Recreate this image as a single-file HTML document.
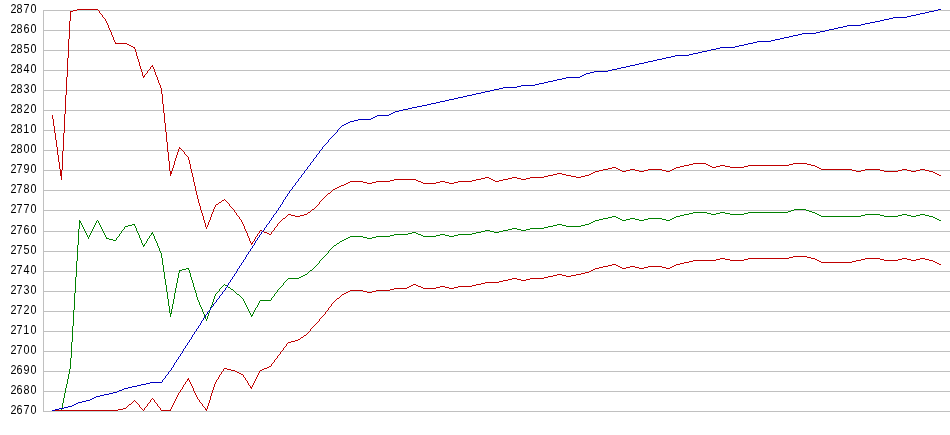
<!DOCTYPE html>
<html lang="en">
<head>
<meta charset="utf-8">
<title>Chart</title>
<style>
html,body{margin:0;padding:0;background:#fff;}
body{width:950px;height:435px;overflow:hidden;position:relative;font-family:"Liberation Sans",Arial,sans-serif;}
svg{position:absolute;left:0;top:0;display:block;}
</style>
</head>
<body>
<svg width="950" height="435" viewBox="0 0 950 435" shape-rendering="crispEdges">
<rect x="0" y="0" width="950" height="435" fill="#ffffff"/>
<path fill="#c0c0c0" d="M43 10h907v1h-907zM43 30h907v1h-907zM43 50h907v1h-907zM43 70h907v1h-907zM43 90h907v1h-907zM43 110h907v1h-907zM43 130h907v1h-907zM43 150h907v1h-907zM43 170h907v1h-907zM43 190h907v1h-907zM43 210h907v1h-907zM43 231h907v1h-907zM43 251h907v1h-907zM43 271h907v1h-907zM43 291h907v1h-907zM43 311h907v1h-907zM43 331h907v1h-907zM43 351h907v1h-907zM43 371h907v1h-907zM43 391h907v1h-907zM43 411h907v1h-907zM43 10h1v402h-1z"/>
<path fill="#cdcdba" d="M52 411h3v1h-3zM113 391h4v1h-4zM119 391h3v1h-3zM168 371h1v1h-1zM170 371h1v1h-1zM183 351h1v1h-1zM194 331h1v1h-1zM196 331h1v1h-1zM207 311h1v1h-1zM222 291h1v1h-1zM224 291h1v1h-1zM237 271h1v1h-1zM248 251h1v1h-1zM250 251h1v1h-1zM261 231h1v1h-1zM276 210h1v1h-1zM278 210h1v1h-1zM289 190h1v1h-1zM291 190h1v1h-1zM304 170h1v1h-1zM306 170h1v1h-1zM319 150h1v1h-1zM321 150h1v1h-1zM338 130h1v1h-1zM395 110h4v1h-4zM403 110h5v1h-5zM485 90h5v1h-5zM494 90h5v1h-5zM594 70h14v1h-14zM612 70h5v1h-5zM702 50h5v1h-5zM711 50h5v1h-5zM820 30h5v1h-5zM829 30h5v1h-5zM929 10h5v1h-5zM938 10h3v1h-3z"/>
<path fill="#bfd4d4" d="M55 411h63v1h-63zM143 411h1v1h-1zM161 411h10v1h-10zM179 391h1v1h-1zM193 391h1v1h-1zM206 411h1v1h-1zM221 371h1v1h-1zM223 371h1v1h-1zM231 371h4v1h-4zM237 371h2v1h-2zM260 371h2v1h-2zM280 351h1v1h-1zM282 351h1v1h-1zM308 331h1v1h-1zM310 331h1v1h-1zM325 311h1v1h-1zM327 311h1v1h-1zM346 291h2v1h-2zM350 291h13v1h-13zM367 291h5v1h-5zM376 291h14v1h-14zM585 271h4v1h-4zM591 271h2v1h-2z"/>
<path fill="#bfd4d4" d="M62 150h1v1h-1zM62 170h1v1h-1zM70 10h3v1h-3zM77 10h21v1h-21zM99 10h1v1h-1zM109 30h1v1h-1zM147 70h1v1h-1zM149 70h1v1h-1zM170 170h2v1h-2zM181 150h1v1h-1zM183 150h1v1h-1zM196 190h1v1h-1zM200 210h1v1h-1zM233 210h1v1h-1zM245 231h1v1h-1zM260 231h1v1h-1zM264 231h3v1h-3zM271 231h1v1h-1zM273 231h1v1h-1zM310 210h1v1h-1zM312 210h2v1h-2zM331 190h1v1h-1zM333 190h2v1h-2zM595 170h4v1h-4zM603 170h5v1h-5zM618 170h2v1h-2zM622 170h4v1h-4zM630 170h5v1h-5zM639 170h5v1h-5zM648 170h14v1h-14zM666 170h4v1h-4zM672 170h2v1h-2zM821 170h31v1h-31zM856 170h5v1h-5zM865 170h15v1h-15zM884 170h14v1h-14zM902 170h5v1h-5zM911 170h5v1h-5zM920 170h5v1h-5zM929 170h4v1h-4z"/>
<path fill="#d1c4d3" d="M84 231h1v1h-1zM92 231h1v1h-1zM102 231h1v1h-1zM122 231h1v1h-1zM136 231h1v1h-1zM152 231h1v1h-1zM159 251h1v1h-1zM164 271h1v1h-1zM167 291h1v1h-1zM180 271h2v1h-2zM203 311h1v1h-1zM217 291h1v1h-1zM219 291h1v1h-1zM233 291h1v1h-1zM235 291h1v1h-1zM248 311h1v1h-1zM253 311h1v1h-1zM276 291h1v1h-1zM308 271h1v1h-1zM310 271h2v1h-2zM329 251h1v1h-1zM412 231h4v1h-4zM476 231h5v1h-5zM485 231h5v1h-5zM494 231h5v1h-5zM503 231h5v1h-5zM521 231h5v1h-5zM788 210h3v1h-3zM794 210h12v1h-12zM809 210h3v1h-3z"/>
<path fill="#008000" d="M52 410h9v1h-9zM61 408h1v3h-1zM62 403h1v5h-1zM63 398h1v5h-1zM64 393h1v5h-1zM65 388h1v5h-1zM66 384h1v4h-1zM67 379h1v5h-1zM68 374h1v5h-1zM69 369h1v5h-1zM70 358h1v11h-1zM71 342h1v16h-1zM72 326h1v16h-1zM73 310h1v16h-1zM74 293h1v17h-1zM75 277h1v16h-1zM76 261h1v16h-1zM77 245h1v16h-1zM78 229h1v16h-1zM79 220h1v9h-1zM80 221h1v1h-1zM80 222h1v1h-1zM81 223h1v1h-1zM81 224h1v1h-1zM82 225h1v1h-1zM82 226h1v1h-1zM83 227h1v1h-1zM83 228h1v1h-1zM84 229h1v1h-1zM84 230h1v1h-1zM85 231h1v1h-1zM85 232h1v1h-1zM86 233h1v1h-1zM86 234h1v1h-1zM87 235h1v1h-1zM87 236h1v1h-1zM88 237h1v1h-1zM88 238h1v1h-1zM89 235h1v1h-1zM89 236h1v1h-1zM90 233h1v1h-1zM90 234h1v1h-1zM91 231h1v1h-1zM91 232h1v1h-1zM92 229h1v1h-1zM92 230h1v1h-1zM93 227h1v1h-1zM93 228h1v1h-1zM94 225h1v1h-1zM94 226h1v1h-1zM95 223h1v1h-1zM95 224h1v1h-1zM96 221h1v1h-1zM96 222h1v1h-1zM97 220h1v1h-1zM98 221h1v1h-1zM98 222h1v1h-1zM99 223h1v1h-1zM99 224h1v1h-1zM100 225h1v1h-1zM100 226h1v1h-1zM101 227h1v1h-1zM101 228h1v1h-1zM102 229h1v1h-1zM102 230h1v1h-1zM103 231h1v1h-1zM103 232h1v1h-1zM104 233h1v1h-1zM104 234h1v1h-1zM105 235h1v1h-1zM105 236h1v1h-1zM106 237h1v1h-1zM106 238h3v1h-3zM109 239h4v1h-4zM113 240h3v1h-3zM116 238h1v1h-1zM116 239h1v1h-1zM117 237h1v1h-1zM118 236h1v1h-1zM119 234h1v1h-1zM119 235h1v1h-1zM120 233h1v1h-1zM121 231h1v1h-1zM121 232h1v1h-1zM122 230h1v1h-1zM123 229h1v1h-1zM124 227h1v1h-1zM124 228h1v1h-1zM125 226h3v1h-3zM128 225h4v1h-4zM132 224h3v1h-3zM134 225h1v1h-1zM135 226h1v1h-1zM135 227h1v1h-1zM136 228h1v3h-1zM137 231h1v1h-1zM137 232h1v1h-1zM138 233h1v1h-1zM138 234h1v1h-1zM139 235h1v3h-1zM140 238h1v1h-1zM140 239h1v1h-1zM141 240h1v3h-1zM142 243h1v1h-1zM142 244h1v1h-1zM143 245h2v1h-2zM143 246h1v1h-1zM144 244h1v1h-1zM145 243h1v1h-1zM146 241h1v1h-1zM146 242h1v1h-1zM147 239h1v1h-1zM147 240h1v1h-1zM148 238h1v1h-1zM149 236h1v1h-1zM149 237h1v1h-1zM150 235h1v1h-1zM151 233h2v1h-2zM151 234h1v1h-1zM152 232h1v1h-1zM153 234h1v1h-1zM153 235h1v1h-1zM154 236h1v3h-1zM155 239h1v1h-1zM155 240h1v1h-1zM156 241h1v1h-1zM156 242h1v1h-1zM157 243h1v3h-1zM158 246h1v1h-1zM158 247h1v1h-1zM159 248h1v3h-1zM160 251h1v1h-1zM160 252h1v1h-1zM161 253h1v5h-1zM162 258h1v7h-1zM163 265h1v7h-1zM164 272h1v7h-1zM165 279h1v6h-1zM166 285h1v7h-1zM167 292h1v7h-1zM168 299h1v7h-1zM169 306h1v7h-1zM170 313h1v4h-1zM171 309h1v5h-1zM172 304h1v5h-1zM173 299h1v5h-1zM174 293h1v6h-1zM175 288h1v5h-1zM176 283h1v5h-1zM177 278h1v5h-1zM178 273h1v5h-1zM179 270h1v3h-1zM180 270h2v1h-2zM182 269h4v1h-4zM186 268h3v1h-3zM188 269h1v1h-1zM189 270h1v3h-1zM190 273h1v4h-1zM191 277h1v3h-1zM192 280h1v3h-1zM193 283h1v4h-1zM194 287h1v3h-1zM195 290h1v3h-1zM196 293h1v4h-1zM197 297h1v3h-1zM198 300h1v1h-1zM198 301h1v1h-1zM199 302h1v3h-1zM200 305h1v1h-1zM200 306h1v1h-1zM201 307h1v1h-1zM201 308h1v1h-1zM202 309h1v3h-1zM203 312h1v1h-1zM203 313h1v1h-1zM204 314h1v3h-1zM205 317h1v1h-1zM205 318h1v1h-1zM206 319h1v1h-1zM206 320h1v1h-1zM207 316h1v3h-1zM208 313h1v3h-1zM209 310h1v3h-1zM210 307h1v3h-1zM211 305h1v1h-1zM211 306h1v1h-1zM212 302h1v3h-1zM213 299h1v3h-1zM214 296h1v3h-1zM215 294h1v1h-1zM215 295h1v1h-1zM216 293h1v1h-1zM217 292h1v1h-1zM218 291h1v1h-1zM219 289h1v1h-1zM219 290h1v1h-1zM220 288h1v1h-1zM221 287h1v1h-1zM222 286h1v1h-1zM223 285h1v1h-1zM224 284h1v1h-1zM225 285h2v1h-2zM227 286h1v1h-1zM228 287h2v1h-2zM230 288h1v1h-1zM231 289h2v1h-2zM233 290h1v1h-1zM234 291h1v1h-1zM235 292h1v1h-1zM236 293h1v1h-1zM237 294h2v1h-2zM239 295h1v1h-1zM240 296h1v1h-1zM241 297h1v1h-1zM242 298h1v1h-1zM243 299h1v1h-1zM243 300h1v1h-1zM244 301h1v1h-1zM244 302h1v1h-1zM245 303h1v1h-1zM245 304h1v1h-1zM246 305h1v1h-1zM246 306h1v1h-1zM247 307h1v1h-1zM247 308h1v1h-1zM248 309h1v1h-1zM248 310h1v1h-1zM249 311h1v1h-1zM249 312h1v1h-1zM250 313h1v1h-1zM250 314h1v1h-1zM251 315h2v1h-2zM251 316h1v1h-1zM252 314h1v1h-1zM253 312h1v1h-1zM253 313h1v1h-1zM254 310h1v1h-1zM254 311h1v1h-1zM255 308h1v1h-1zM255 309h1v1h-1zM256 307h1v1h-1zM257 305h1v1h-1zM257 306h1v1h-1zM258 303h1v1h-1zM258 304h1v1h-1zM259 301h1v1h-1zM259 302h1v1h-1zM260 300h11v1h-11zM271 298h1v1h-1zM271 299h1v1h-1zM272 297h1v1h-1zM273 296h1v1h-1zM274 294h1v1h-1zM274 295h1v1h-1zM275 293h1v1h-1zM276 292h1v1h-1zM277 290h1v1h-1zM277 291h1v1h-1zM278 289h1v1h-1zM279 288h1v1h-1zM280 287h1v1h-1zM281 286h1v1h-1zM282 285h1v1h-1zM283 283h1v1h-1zM283 284h1v1h-1zM284 282h1v1h-1zM285 281h1v1h-1zM286 280h1v1h-1zM287 279h1v1h-1zM288 278h11v1h-11zM299 277h2v1h-2zM301 276h2v1h-2zM303 275h2v1h-2zM305 274h2v1h-2zM307 273h1v1h-1zM308 272h1v1h-1zM309 271h1v1h-1zM310 270h2v1h-2zM312 269h1v1h-1zM313 268h1v1h-1zM314 267h1v1h-1zM315 266h1v1h-1zM316 265h1v1h-1zM317 264h1v1h-1zM318 263h1v1h-1zM319 261h1v1h-1zM319 262h1v1h-1zM320 260h1v1h-1zM321 259h1v1h-1zM322 258h1v1h-1zM323 257h1v1h-1zM324 256h1v1h-1zM325 255h1v1h-1zM326 254h1v1h-1zM327 253h1v1h-1zM328 251h1v1h-1zM328 252h1v1h-1zM329 250h1v1h-1zM330 249h1v1h-1zM331 248h1v1h-1zM332 247h1v1h-1zM333 246h1v1h-1zM334 245h2v1h-2zM336 244h1v1h-1zM337 243h2v1h-2zM339 242h1v1h-1zM340 241h2v1h-2zM342 240h2v1h-2zM344 239h2v1h-2zM346 238h2v1h-2zM348 237h2v1h-2zM350 236h13v1h-13zM363 237h4v1h-4zM367 238h5v1h-5zM372 237h4v1h-4zM376 236h14v1h-14zM390 235h4v1h-4zM394 234h14v1h-14zM408 233h4v1h-4zM412 232h4v1h-4zM416 233h2v1h-2zM418 234h3v1h-3zM421 235h2v1h-2zM423 236h13v1h-13zM436 235h4v1h-4zM440 234h5v1h-5zM445 235h4v1h-4zM449 236h5v1h-5zM454 235h4v1h-4zM458 234h14v1h-14zM472 233h4v1h-4zM476 232h5v1h-5zM481 231h4v1h-4zM485 230h5v1h-5zM490 231h4v1h-4zM494 232h5v1h-5zM499 231h4v1h-4zM503 230h5v1h-5zM508 229h4v1h-4zM512 228h5v1h-5zM517 229h4v1h-4zM521 230h5v1h-5zM526 229h4v1h-4zM530 228h14v1h-14zM544 227h4v1h-4zM548 226h5v1h-5zM553 225h4v1h-4zM557 224h5v1h-5zM562 225h4v1h-4zM566 226h15v1h-15zM581 225h4v1h-4zM585 224h4v1h-4zM589 223h2v1h-2zM591 222h2v1h-2zM593 221h2v1h-2zM595 220h4v1h-4zM599 219h4v1h-4zM603 218h5v1h-5zM608 217h4v1h-4zM612 216h4v1h-4zM616 217h2v1h-2zM618 218h2v1h-2zM620 219h2v1h-2zM622 220h4v1h-4zM626 219h4v1h-4zM630 218h5v1h-5zM635 219h4v1h-4zM639 220h5v1h-5zM644 219h4v1h-4zM648 218h14v1h-14zM662 219h4v1h-4zM666 220h4v1h-4zM670 219h2v1h-2zM672 218h2v1h-2zM674 217h2v1h-2zM676 216h4v1h-4zM680 215h4v1h-4zM684 214h5v1h-5zM689 213h4v1h-4zM693 212h14v1h-14zM707 213h4v1h-4zM711 214h5v1h-5zM716 213h4v1h-4zM720 212h5v1h-5zM725 213h5v1h-5zM730 214h14v1h-14zM744 213h4v1h-4zM748 212h40v1h-40zM788 211h3v1h-3zM791 210h3v1h-3zM794 209h12v1h-12zM806 210h3v1h-3zM809 211h3v1h-3zM812 212h3v1h-3zM815 213h2v1h-2zM817 214h2v1h-2zM819 215h2v1h-2zM821 216h40v1h-40zM861 215h4v1h-4zM865 214h15v1h-15zM880 215h4v1h-4zM884 216h14v1h-14zM898 215h4v1h-4zM902 214h5v1h-5zM907 215h4v1h-4zM911 216h5v1h-5zM916 215h4v1h-4zM920 214h5v1h-5zM925 215h4v1h-4zM929 216h4v1h-4zM933 217h2v1h-2zM935 218h2v1h-2zM937 219h2v1h-2zM939 220h2v1h-2z"/>
<path fill="#c00000" d="M52 115h1v4h-1zM53 119h1v7h-1zM54 126h1v7h-1zM55 133h1v7h-1zM56 140h1v7h-1zM57 147h1v8h-1zM58 155h1v7h-1zM59 162h1v7h-1zM60 169h1v7h-1zM61 170h1v10h-1zM62 151h1v19h-1zM63 133h1v18h-1zM64 114h1v19h-1zM65 95h1v19h-1zM66 77h1v18h-1zM67 58h1v19h-1zM68 39h1v19h-1zM69 21h1v18h-1zM70 11h1v10h-1zM71 11h2v1h-2zM73 10h4v1h-4zM77 9h21v1h-21zM98 10h1v1h-1zM99 11h1v1h-1zM99 12h1v1h-1zM100 13h1v1h-1zM101 14h1v1h-1zM102 15h1v1h-1zM102 16h1v1h-1zM103 17h1v1h-1zM104 18h1v1h-1zM105 19h1v1h-1zM105 20h1v1h-1zM106 21h1v1h-1zM106 22h1v1h-1zM107 23h1v1h-1zM107 24h1v1h-1zM108 25h1v3h-1zM109 28h1v1h-1zM109 29h1v1h-1zM110 30h1v1h-1zM110 31h1v1h-1zM111 32h1v3h-1zM112 35h1v1h-1zM112 36h1v1h-1zM113 37h1v3h-1zM114 40h1v1h-1zM114 41h1v1h-1zM115 42h1v1h-1zM115 43h12v1h-12zM127 44h2v1h-2zM129 45h2v1h-2zM131 46h2v1h-2zM133 47h2v1h-2zM134 48h1v1h-1zM135 49h1v3h-1zM136 52h1v4h-1zM137 56h1v3h-1zM138 59h1v3h-1zM139 62h1v4h-1zM140 66h1v3h-1zM141 69h1v3h-1zM142 72h1v4h-1zM143 76h2v1h-2zM143 77h1v1h-1zM144 75h1v1h-1zM145 74h1v1h-1zM146 73h1v1h-1zM147 71h1v1h-1zM147 72h1v1h-1zM148 70h1v1h-1zM149 69h1v1h-1zM150 67h1v1h-1zM150 68h1v1h-1zM151 66h2v1h-2zM152 65h1v1h-1zM153 67h1v1h-1zM153 68h1v1h-1zM154 69h1v3h-1zM155 72h1v3h-1zM156 75h1v1h-1zM156 76h1v1h-1zM157 77h1v3h-1zM158 80h1v3h-1zM159 83h1v1h-1zM159 84h1v1h-1zM160 85h1v3h-1zM161 88h1v6h-1zM162 94h1v10h-1zM163 104h1v9h-1zM164 113h1v10h-1zM165 123h1v9h-1zM166 132h1v10h-1zM167 142h1v10h-1zM168 152h1v9h-1zM169 161h1v10h-1zM170 171h1v5h-1zM171 171h1v3h-1zM172 168h1v3h-1zM173 165h1v3h-1zM174 161h1v4h-1zM175 158h1v3h-1zM176 155h1v3h-1zM177 152h1v3h-1zM178 149h1v3h-1zM179 147h1v1h-1zM179 148h2v1h-2zM181 149h1v1h-1zM182 150h1v1h-1zM183 151h1v1h-1zM184 152h1v1h-1zM184 153h1v1h-1zM185 154h1v1h-1zM186 155h1v1h-1zM187 156h1v1h-1zM188 157h1v3h-1zM189 160h1v4h-1zM190 164h1v5h-1zM191 169h1v4h-1zM192 173h1v4h-1zM193 177h1v5h-1zM194 182h1v4h-1zM195 186h1v5h-1zM196 191h1v4h-1zM197 195h1v4h-1zM198 199h1v4h-1zM199 203h1v3h-1zM200 206h1v4h-1zM201 210h1v3h-1zM202 213h1v3h-1zM203 216h1v4h-1zM204 220h1v3h-1zM205 223h1v4h-1zM206 227h1v1h-1zM206 228h1v1h-1zM207 225h1v1h-1zM207 226h1v1h-1zM208 222h1v3h-1zM209 220h1v1h-1zM209 221h1v1h-1zM210 217h1v3h-1zM211 214h1v3h-1zM212 212h1v1h-1zM212 213h1v1h-1zM213 209h1v3h-1zM214 207h1v1h-1zM214 208h1v1h-1zM215 205h1v1h-1zM215 206h1v1h-1zM216 204h2v1h-2zM218 203h1v1h-1zM219 202h2v1h-2zM221 201h1v1h-1zM222 200h2v1h-2zM224 199h1v1h-1zM225 200h1v1h-1zM226 201h1v1h-1zM227 202h1v1h-1zM228 203h1v1h-1zM229 204h1v1h-1zM229 205h1v1h-1zM230 206h1v1h-1zM231 207h1v1h-1zM232 208h1v1h-1zM233 209h1v1h-1zM234 210h1v1h-1zM234 211h1v1h-1zM235 212h1v1h-1zM236 213h1v1h-1zM236 214h1v1h-1zM237 215h1v1h-1zM238 216h1v1h-1zM239 217h1v1h-1zM239 218h1v1h-1zM240 219h1v1h-1zM241 220h1v1h-1zM241 221h1v1h-1zM242 222h1v1h-1zM242 223h1v1h-1zM243 224h1v1h-1zM243 225h1v1h-1zM244 226h1v3h-1zM245 229h1v1h-1zM245 230h1v1h-1zM246 231h1v1h-1zM246 232h1v1h-1zM247 233h1v3h-1zM248 236h1v1h-1zM248 237h1v1h-1zM249 238h1v3h-1zM250 241h1v1h-1zM250 242h1v1h-1zM251 243h2v1h-2zM251 244h1v1h-1zM252 242h1v1h-1zM253 241h1v1h-1zM254 239h1v1h-1zM254 240h1v1h-1zM255 237h1v1h-1zM255 238h1v1h-1zM256 236h1v1h-1zM257 234h1v1h-1zM257 235h1v1h-1zM258 233h1v1h-1zM259 231h1v1h-1zM259 232h1v1h-1zM260 230h2v1h-2zM262 231h2v1h-2zM264 232h3v1h-3zM267 233h2v1h-2zM269 234h2v1h-2zM271 232h1v1h-1zM271 233h1v1h-1zM272 231h1v1h-1zM273 230h1v1h-1zM274 228h1v1h-1zM274 229h1v1h-1zM275 227h1v1h-1zM276 226h1v1h-1zM277 224h1v1h-1zM277 225h1v1h-1zM278 223h1v1h-1zM279 222h1v1h-1zM280 221h1v1h-1zM281 220h1v1h-1zM282 219h1v1h-1zM283 218h2v1h-2zM285 217h1v1h-1zM286 216h1v1h-1zM287 215h1v1h-1zM288 214h3v1h-3zM291 215h4v1h-4zM295 216h5v1h-5zM300 215h4v1h-4zM304 214h3v1h-3zM307 213h1v1h-1zM308 212h2v1h-2zM310 211h1v1h-1zM311 210h1v1h-1zM312 209h2v1h-2zM314 208h1v1h-1zM315 207h1v1h-1zM316 206h1v1h-1zM317 205h1v1h-1zM318 204h1v1h-1zM319 202h1v1h-1zM319 203h1v1h-1zM320 201h1v1h-1zM321 200h1v1h-1zM322 199h1v1h-1zM323 198h1v1h-1zM324 197h1v1h-1zM325 196h1v1h-1zM326 195h1v1h-1zM327 194h1v1h-1zM328 193h2v1h-2zM330 192h1v1h-1zM331 191h1v1h-1zM332 190h1v1h-1zM333 189h2v1h-2zM335 188h2v1h-2zM337 187h2v1h-2zM339 186h2v1h-2zM341 185h3v1h-3zM344 184h2v1h-2zM346 183h2v1h-2zM348 182h2v1h-2zM350 181h13v1h-13zM363 182h4v1h-4zM367 183h5v1h-5zM372 182h4v1h-4zM376 181h14v1h-14zM390 180h4v1h-4zM394 179h22v1h-22zM416 180h2v1h-2zM418 181h3v1h-3zM421 182h2v1h-2zM423 183h13v1h-13zM436 182h4v1h-4zM440 181h5v1h-5zM445 182h4v1h-4zM449 183h5v1h-5zM454 182h4v1h-4zM458 181h14v1h-14zM472 180h4v1h-4zM476 179h5v1h-5zM481 178h4v1h-4zM485 177h4v1h-4zM489 178h2v1h-2zM491 179h2v1h-2zM493 180h2v1h-2zM495 181h4v1h-4zM499 180h4v1h-4zM503 179h5v1h-5zM508 178h4v1h-4zM512 177h5v1h-5zM517 178h4v1h-4zM521 179h5v1h-5zM526 178h4v1h-4zM530 177h14v1h-14zM544 176h4v1h-4zM548 175h5v1h-5zM553 174h4v1h-4zM557 173h5v1h-5zM562 174h4v1h-4zM566 175h5v1h-5zM571 176h5v1h-5zM576 177h5v1h-5zM581 176h4v1h-4zM585 175h4v1h-4zM589 174h2v1h-2zM591 173h2v1h-2zM593 172h2v1h-2zM595 171h4v1h-4zM599 170h4v1h-4zM603 169h5v1h-5zM608 168h4v1h-4zM612 167h4v1h-4zM616 168h2v1h-2zM618 169h2v1h-2zM620 170h2v1h-2zM622 171h4v1h-4zM626 170h4v1h-4zM630 169h5v1h-5zM635 170h4v1h-4zM639 171h5v1h-5zM644 170h4v1h-4zM648 169h14v1h-14zM662 170h4v1h-4zM666 171h4v1h-4zM670 170h2v1h-2zM672 169h2v1h-2zM674 168h2v1h-2zM676 167h4v1h-4zM680 166h4v1h-4zM684 165h5v1h-5zM689 164h4v1h-4zM693 163h13v1h-13zM706 164h2v1h-2zM708 165h2v1h-2zM710 166h2v1h-2zM712 167h4v1h-4zM716 166h4v1h-4zM720 165h5v1h-5zM725 166h5v1h-5zM730 167h14v1h-14zM744 166h4v1h-4zM748 165h41v1h-41zM789 164h4v1h-4zM793 163h14v1h-14zM807 164h4v1h-4zM811 165h4v1h-4zM815 166h2v1h-2zM817 167h2v1h-2zM819 168h2v1h-2zM821 169h31v1h-31zM852 170h4v1h-4zM856 171h5v1h-5zM861 170h4v1h-4zM865 169h15v1h-15zM880 170h4v1h-4zM884 171h14v1h-14zM898 170h4v1h-4zM902 169h5v1h-5zM907 170h4v1h-4zM911 171h5v1h-5zM916 170h4v1h-4zM920 169h5v1h-5zM925 170h4v1h-4zM929 171h4v1h-4zM933 172h2v1h-2zM935 173h2v1h-2zM937 174h2v1h-2zM939 175h2v1h-2z"/>
<path fill="#c00000" d="M52 410h66v1h-66zM118 409h5v1h-5zM123 408h3v1h-3zM126 407h1v1h-1zM127 406h1v1h-1zM128 405h1v1h-1zM129 404h2v1h-2zM131 403h1v1h-1zM132 402h1v1h-1zM133 401h1v1h-1zM134 400h1v1h-1zM135 401h1v1h-1zM136 402h1v1h-1zM137 403h1v1h-1zM138 404h1v1h-1zM139 405h1v1h-1zM139 406h1v1h-1zM140 407h1v1h-1zM141 408h1v1h-1zM142 409h1v1h-1zM143 410h1v1h-1zM144 408h1v1h-1zM144 409h1v1h-1zM145 407h1v1h-1zM146 406h1v1h-1zM147 404h1v1h-1zM147 405h1v1h-1zM148 403h1v1h-1zM149 402h1v1h-1zM150 400h1v1h-1zM150 401h1v1h-1zM151 399h1v1h-1zM152 398h1v1h-1zM153 399h1v1h-1zM154 400h1v1h-1zM154 401h1v1h-1zM155 402h1v1h-1zM156 403h1v1h-1zM157 404h1v1h-1zM157 405h1v1h-1zM158 406h1v1h-1zM159 407h1v1h-1zM160 408h1v1h-1zM160 409h1v1h-1zM161 410h10v1h-10zM170 409h1v1h-1zM171 407h1v1h-1zM171 408h1v1h-1zM172 405h1v1h-1zM172 406h1v1h-1zM173 403h1v1h-1zM173 404h1v1h-1zM174 401h1v1h-1zM174 402h1v1h-1zM175 399h1v1h-1zM175 400h1v1h-1zM176 397h1v1h-1zM176 398h1v1h-1zM177 395h1v1h-1zM177 396h1v1h-1zM178 393h1v1h-1zM178 394h1v1h-1zM179 392h1v1h-1zM180 390h1v1h-1zM180 391h1v1h-1zM181 389h1v1h-1zM182 387h1v1h-1zM182 388h1v1h-1zM183 385h1v1h-1zM183 386h1v1h-1zM184 384h1v1h-1zM185 382h1v1h-1zM185 383h1v1h-1zM186 381h1v1h-1zM187 379h2v1h-2zM187 380h1v1h-1zM188 378h1v1h-1zM189 380h1v1h-1zM189 381h1v1h-1zM190 382h1v1h-1zM190 383h1v1h-1zM191 384h1v1h-1zM191 385h1v1h-1zM192 386h1v1h-1zM192 387h1v1h-1zM193 388h1v3h-1zM194 391h1v1h-1zM194 392h1v1h-1zM195 393h1v1h-1zM195 394h1v1h-1zM196 395h1v1h-1zM196 396h1v1h-1zM197 397h1v1h-1zM197 398h1v1h-1zM198 399h1v1h-1zM199 400h1v1h-1zM199 401h1v1h-1zM200 402h1v1h-1zM201 403h1v1h-1zM202 404h1v1h-1zM202 405h1v1h-1zM203 406h1v1h-1zM204 407h1v1h-1zM205 408h1v1h-1zM205 409h2v1h-2zM206 410h1v1h-1zM207 406h1v3h-1zM208 403h1v3h-1zM209 400h1v3h-1zM210 396h1v4h-1zM211 393h1v3h-1zM212 390h1v3h-1zM213 387h1v3h-1zM214 384h1v3h-1zM215 382h1v1h-1zM215 383h1v1h-1zM216 380h1v1h-1zM216 381h1v1h-1zM217 379h1v1h-1zM218 377h1v1h-1zM218 378h1v1h-1zM219 375h1v1h-1zM219 376h1v1h-1zM220 374h1v1h-1zM221 372h1v1h-1zM221 373h1v1h-1zM222 371h1v1h-1zM223 369h1v1h-1zM223 370h1v1h-1zM224 368h3v1h-3zM227 369h4v1h-4zM231 370h4v1h-4zM235 371h2v1h-2zM237 372h2v1h-2zM239 373h2v1h-2zM241 374h2v1h-2zM243 375h1v1h-1zM243 376h1v1h-1zM244 377h1v1h-1zM245 378h1v1h-1zM245 379h1v1h-1zM246 380h1v1h-1zM247 381h1v1h-1zM247 382h1v1h-1zM248 383h1v1h-1zM248 384h1v1h-1zM249 385h1v1h-1zM250 386h1v1h-1zM250 387h2v1h-2zM251 388h1v1h-1zM252 385h1v1h-1zM252 386h1v1h-1zM253 383h1v1h-1zM253 384h1v1h-1zM254 381h1v1h-1zM254 382h1v1h-1zM255 379h1v1h-1zM255 380h1v1h-1zM256 377h1v1h-1zM256 378h1v1h-1zM257 375h1v1h-1zM257 376h1v1h-1zM258 373h1v1h-1zM258 374h1v1h-1zM259 371h1v1h-1zM259 372h1v1h-1zM260 370h2v1h-2zM262 369h2v1h-2zM264 368h3v1h-3zM267 367h2v1h-2zM269 366h2v1h-2zM271 364h1v1h-1zM271 365h1v1h-1zM272 363h1v1h-1zM273 362h1v1h-1zM274 360h1v1h-1zM274 361h1v1h-1zM275 359h1v1h-1zM276 358h1v1h-1zM277 356h1v1h-1zM277 357h1v1h-1zM278 355h1v1h-1zM279 354h1v1h-1zM280 352h1v1h-1zM280 353h1v1h-1zM281 351h1v1h-1zM282 350h1v1h-1zM283 348h1v1h-1zM283 349h1v1h-1zM284 347h1v1h-1zM285 346h1v1h-1zM286 344h1v1h-1zM286 345h1v1h-1zM287 343h1v1h-1zM288 342h3v1h-3zM291 341h4v1h-4zM295 340h3v1h-3zM298 339h2v1h-2zM300 338h1v1h-1zM301 337h2v1h-2zM303 336h1v1h-1zM304 335h2v1h-2zM306 334h1v1h-1zM307 333h1v1h-1zM308 332h1v1h-1zM309 331h1v1h-1zM310 329h1v1h-1zM310 330h1v1h-1zM311 328h1v1h-1zM312 327h1v1h-1zM313 326h1v1h-1zM314 325h1v1h-1zM315 324h1v1h-1zM316 323h1v1h-1zM317 322h1v1h-1zM318 321h1v1h-1zM319 319h1v1h-1zM319 320h1v1h-1zM320 318h1v1h-1zM321 317h1v1h-1zM322 316h1v1h-1zM323 315h1v1h-1zM324 314h1v1h-1zM325 312h1v1h-1zM325 313h1v1h-1zM326 311h1v1h-1zM327 310h1v1h-1zM328 308h1v1h-1zM328 309h1v1h-1zM329 307h1v1h-1zM330 306h1v1h-1zM331 304h1v1h-1zM331 305h1v1h-1zM332 303h1v1h-1zM333 302h1v1h-1zM334 301h1v1h-1zM335 300h1v1h-1zM336 299h1v1h-1zM337 298h2v1h-2zM339 297h1v1h-1zM340 296h1v1h-1zM341 295h1v1h-1zM342 294h2v1h-2zM344 293h2v1h-2zM346 292h2v1h-2zM348 291h2v1h-2zM350 290h13v1h-13zM363 291h4v1h-4zM367 292h5v1h-5zM372 291h4v1h-4zM376 290h14v1h-14zM390 289h4v1h-4zM394 288h13v1h-13zM407 287h2v1h-2zM409 286h2v1h-2zM411 285h2v1h-2zM413 284h3v1h-3zM416 285h2v1h-2zM418 286h3v1h-3zM421 287h2v1h-2zM423 288h13v1h-13zM436 287h4v1h-4zM440 286h5v1h-5zM445 287h4v1h-4zM449 288h5v1h-5zM454 287h4v1h-4zM458 286h14v1h-14zM472 285h4v1h-4zM476 284h5v1h-5zM481 283h4v1h-4zM485 282h14v1h-14zM499 281h4v1h-4zM503 280h5v1h-5zM508 279h4v1h-4zM512 278h5v1h-5zM517 279h4v1h-4zM521 280h5v1h-5zM526 279h4v1h-4zM530 278h14v1h-14zM544 277h4v1h-4zM548 276h5v1h-5zM553 275h4v1h-4zM557 274h5v1h-5zM562 275h4v1h-4zM566 276h5v1h-5zM571 275h5v1h-5zM576 274h5v1h-5zM581 273h4v1h-4zM585 272h4v1h-4zM589 271h2v1h-2zM591 270h2v1h-2zM593 269h2v1h-2zM595 268h4v1h-4zM599 267h4v1h-4zM603 266h5v1h-5zM608 265h4v1h-4zM612 264h4v1h-4zM616 265h2v1h-2zM618 266h2v1h-2zM620 267h2v1h-2zM622 268h4v1h-4zM626 267h4v1h-4zM630 266h5v1h-5zM635 267h4v1h-4zM639 268h5v1h-5zM644 267h4v1h-4zM648 266h14v1h-14zM662 267h4v1h-4zM666 268h4v1h-4zM670 267h2v1h-2zM672 266h2v1h-2zM674 265h2v1h-2zM676 264h4v1h-4zM680 263h4v1h-4zM684 262h5v1h-5zM689 261h4v1h-4zM693 260h23v1h-23zM716 259h4v1h-4zM720 258h5v1h-5zM725 259h5v1h-5zM730 260h14v1h-14zM744 259h4v1h-4zM748 258h41v1h-41zM789 257h4v1h-4zM793 256h14v1h-14zM807 257h4v1h-4zM811 258h4v1h-4zM815 259h2v1h-2zM817 260h2v1h-2zM819 261h2v1h-2zM821 262h31v1h-31zM852 261h4v1h-4zM856 260h5v1h-5zM861 259h4v1h-4zM865 258h15v1h-15zM880 259h4v1h-4zM884 260h14v1h-14zM898 259h4v1h-4zM902 258h5v1h-5zM907 259h4v1h-4zM911 260h5v1h-5zM916 259h4v1h-4zM920 258h5v1h-5zM925 259h4v1h-4zM929 260h4v1h-4zM933 261h2v1h-2zM935 262h2v1h-2zM937 263h2v1h-2zM939 264h2v1h-2z"/>
<path fill="#0000c0" d="M52 410h3v1h-3zM55 409h4v1h-4zM59 408h5v1h-5zM64 407h4v1h-4zM68 406h4v1h-4zM72 405h2v1h-2zM74 404h2v1h-2zM76 403h2v1h-2zM78 402h4v1h-4zM82 401h4v1h-4zM86 400h4v1h-4zM90 399h2v1h-2zM92 398h2v1h-2zM94 397h2v1h-2zM96 396h4v1h-4zM100 395h4v1h-4zM104 394h5v1h-5zM109 393h4v1h-4zM113 392h4v1h-4zM117 391h2v1h-2zM119 390h3v1h-3zM122 389h2v1h-2zM124 388h4v1h-4zM128 387h4v1h-4zM132 386h5v1h-5zM137 385h4v1h-4zM141 384h5v1h-5zM146 383h4v1h-4zM150 382h12v1h-12zM162 380h1v1h-1zM162 381h1v1h-1zM163 379h1v1h-1zM164 378h1v1h-1zM165 376h1v1h-1zM165 377h1v1h-1zM166 375h1v1h-1zM167 374h1v1h-1zM168 372h1v1h-1zM168 373h1v1h-1zM169 371h1v1h-1zM170 370h1v1h-1zM171 368h1v1h-1zM171 369h1v1h-1zM172 367h1v1h-1zM173 365h1v1h-1zM173 366h1v1h-1zM174 363h1v1h-1zM174 364h1v1h-1zM175 362h1v1h-1zM176 360h1v1h-1zM176 361h1v1h-1zM177 359h1v1h-1zM178 357h1v1h-1zM178 358h1v1h-1zM179 356h1v1h-1zM180 354h1v1h-1zM180 355h1v1h-1zM181 353h1v1h-1zM182 351h1v1h-1zM182 352h1v1h-1zM183 349h1v1h-1zM183 350h1v1h-1zM184 348h1v1h-1zM185 346h1v1h-1zM185 347h1v1h-1zM186 345h1v1h-1zM187 343h1v1h-1zM187 344h1v1h-1zM188 342h1v1h-1zM189 340h1v1h-1zM189 341h1v1h-1zM190 339h1v1h-1zM191 337h1v1h-1zM191 338h1v1h-1zM192 335h1v1h-1zM192 336h1v1h-1zM193 334h1v1h-1zM194 332h1v1h-1zM194 333h1v1h-1zM195 331h1v1h-1zM196 329h1v1h-1zM196 330h1v1h-1zM197 328h1v1h-1zM198 326h1v1h-1zM198 327h1v1h-1zM199 325h1v1h-1zM200 323h1v1h-1zM200 324h1v1h-1zM201 321h1v1h-1zM201 322h1v1h-1zM202 320h1v1h-1zM203 318h1v1h-1zM203 319h1v1h-1zM204 317h1v1h-1zM205 315h1v1h-1zM205 316h1v1h-1zM206 314h1v1h-1zM207 312h1v1h-1zM207 313h1v1h-1zM208 311h1v1h-1zM209 310h1v1h-1zM210 308h1v1h-1zM210 309h1v1h-1zM211 307h1v1h-1zM212 306h1v1h-1zM213 304h1v1h-1zM213 305h1v1h-1zM214 303h1v1h-1zM215 302h1v1h-1zM216 300h1v1h-1zM216 301h1v1h-1zM217 299h1v1h-1zM218 298h1v1h-1zM219 296h1v1h-1zM219 297h1v1h-1zM220 295h1v1h-1zM221 294h1v1h-1zM222 292h1v1h-1zM222 293h1v1h-1zM223 291h1v1h-1zM224 290h1v1h-1zM225 288h1v1h-1zM225 289h1v1h-1zM226 287h1v1h-1zM227 285h1v1h-1zM227 286h1v1h-1zM228 283h1v1h-1zM228 284h1v1h-1zM229 282h1v1h-1zM230 280h1v1h-1zM230 281h1v1h-1zM231 279h1v1h-1zM232 277h1v1h-1zM232 278h1v1h-1zM233 276h1v1h-1zM234 274h1v1h-1zM234 275h1v1h-1zM235 273h1v1h-1zM236 271h1v1h-1zM236 272h1v1h-1zM237 269h1v1h-1zM237 270h1v1h-1zM238 268h1v1h-1zM239 266h1v1h-1zM239 267h1v1h-1zM240 265h1v1h-1zM241 263h1v1h-1zM241 264h1v1h-1zM242 262h1v1h-1zM243 260h1v1h-1zM243 261h1v1h-1zM244 259h1v1h-1zM245 257h1v1h-1zM245 258h1v1h-1zM246 255h1v1h-1zM246 256h1v1h-1zM247 254h1v1h-1zM248 252h1v1h-1zM248 253h1v1h-1zM249 251h1v1h-1zM250 249h1v1h-1zM250 250h1v1h-1zM251 248h1v1h-1zM252 246h1v1h-1zM252 247h1v1h-1zM253 245h1v1h-1zM254 243h1v1h-1zM254 244h1v1h-1zM255 241h1v1h-1zM255 242h1v1h-1zM256 240h1v1h-1zM257 238h1v1h-1zM257 239h1v1h-1zM258 237h1v1h-1zM259 235h1v1h-1zM259 236h1v1h-1zM260 234h1v1h-1zM261 232h1v1h-1zM261 233h1v1h-1zM262 231h1v1h-1zM263 230h1v1h-1zM264 228h1v1h-1zM264 229h1v1h-1zM265 227h1v1h-1zM266 225h1v1h-1zM266 226h1v1h-1zM267 224h1v1h-1zM268 223h1v1h-1zM269 221h1v1h-1zM269 222h1v1h-1zM270 220h1v1h-1zM271 218h1v1h-1zM271 219h1v1h-1zM272 217h1v1h-1zM273 215h1v1h-1zM273 216h1v1h-1zM274 214h1v1h-1zM275 213h1v1h-1zM276 211h1v1h-1zM276 212h1v1h-1zM277 210h1v1h-1zM278 208h1v1h-1zM278 209h1v1h-1zM279 207h1v1h-1zM280 205h1v1h-1zM280 206h1v1h-1zM281 204h1v1h-1zM282 202h1v1h-1zM282 203h1v1h-1zM283 200h1v1h-1zM283 201h1v1h-1zM284 199h1v1h-1zM285 197h1v1h-1zM285 198h1v1h-1zM286 196h1v1h-1zM287 194h1v1h-1zM287 195h1v1h-1zM288 193h1v1h-1zM289 191h1v1h-1zM289 192h1v1h-1zM290 190h1v1h-1zM291 189h1v1h-1zM292 187h1v1h-1zM292 188h1v1h-1zM293 186h1v1h-1zM294 185h1v1h-1zM295 183h1v1h-1zM295 184h1v1h-1zM296 182h1v1h-1zM297 181h1v1h-1zM298 179h1v1h-1zM298 180h1v1h-1zM299 178h1v1h-1zM300 177h1v1h-1zM301 175h1v1h-1zM301 176h1v1h-1zM302 174h1v1h-1zM303 173h1v1h-1zM304 171h1v1h-1zM304 172h1v1h-1zM305 170h1v1h-1zM306 169h1v1h-1zM307 167h1v1h-1zM307 168h1v1h-1zM308 166h1v1h-1zM309 165h1v1h-1zM310 163h1v1h-1zM310 164h1v1h-1zM311 162h1v1h-1zM312 161h1v1h-1zM313 159h1v1h-1zM313 160h1v1h-1zM314 158h1v1h-1zM315 157h1v1h-1zM316 155h1v1h-1zM316 156h1v1h-1zM317 154h1v1h-1zM318 153h1v1h-1zM319 151h1v1h-1zM319 152h1v1h-1zM320 150h1v1h-1zM321 149h1v1h-1zM322 147h1v1h-1zM322 148h1v1h-1zM323 146h1v1h-1zM324 145h1v1h-1zM325 144h1v1h-1zM326 143h1v1h-1zM327 142h1v1h-1zM328 140h1v1h-1zM328 141h1v1h-1zM329 139h1v1h-1zM330 138h1v1h-1zM331 137h1v1h-1zM332 136h1v1h-1zM333 135h1v1h-1zM334 134h1v1h-1zM335 133h1v1h-1zM336 132h1v1h-1zM337 130h1v1h-1zM337 131h1v1h-1zM338 129h1v1h-1zM339 128h1v1h-1zM340 127h1v1h-1zM341 126h1v1h-1zM342 125h2v1h-2zM344 124h2v1h-2zM346 123h2v1h-2zM348 122h2v1h-2zM350 121h4v1h-4zM354 120h4v1h-4zM358 119h13v1h-13zM371 118h2v1h-2zM373 117h2v1h-2zM375 116h2v1h-2zM377 115h12v1h-12zM389 114h2v1h-2zM391 113h2v1h-2zM393 112h2v1h-2zM395 111h4v1h-4zM399 110h4v1h-4zM403 109h5v1h-5zM408 108h4v1h-4zM412 107h5v1h-5zM417 106h5v1h-5zM422 105h5v1h-5zM427 104h4v1h-4zM431 103h5v1h-5zM436 102h4v1h-4zM440 101h5v1h-5zM445 100h4v1h-4zM449 99h5v1h-5zM454 98h4v1h-4zM458 97h5v1h-5zM463 96h4v1h-4zM467 95h5v1h-5zM472 94h4v1h-4zM476 93h5v1h-5zM481 92h4v1h-4zM485 91h5v1h-5zM490 90h4v1h-4zM494 89h5v1h-5zM499 88h4v1h-4zM503 87h14v1h-14zM517 86h4v1h-4zM521 85h14v1h-14zM535 84h4v1h-4zM539 83h5v1h-5zM544 82h4v1h-4zM548 81h5v1h-5zM553 80h4v1h-4zM557 79h5v1h-5zM562 78h4v1h-4zM566 77h14v1h-14zM580 76h2v1h-2zM582 75h2v1h-2zM584 74h2v1h-2zM586 73h4v1h-4zM590 72h4v1h-4zM594 71h14v1h-14zM608 70h4v1h-4zM612 69h5v1h-5zM617 68h4v1h-4zM621 67h5v1h-5zM626 66h4v1h-4zM630 65h5v1h-5zM635 64h4v1h-4zM639 63h5v1h-5zM644 62h4v1h-4zM648 61h5v1h-5zM653 60h4v1h-4zM657 59h5v1h-5zM662 58h4v1h-4zM666 57h5v1h-5zM671 56h4v1h-4zM675 55h14v1h-14zM689 54h4v1h-4zM693 53h5v1h-5zM698 52h4v1h-4zM702 51h5v1h-5zM707 50h4v1h-4zM711 49h5v1h-5zM716 48h4v1h-4zM720 47h15v1h-15zM735 46h4v1h-4zM739 45h5v1h-5zM744 44h4v1h-4zM748 43h5v1h-5zM753 42h4v1h-4zM757 41h14v1h-14zM771 40h4v1h-4zM775 39h5v1h-5zM780 38h4v1h-4zM784 37h5v1h-5zM789 36h4v1h-4zM793 35h5v1h-5zM798 34h4v1h-4zM802 33h14v1h-14zM816 32h4v1h-4zM820 31h5v1h-5zM825 30h4v1h-4zM829 29h5v1h-5zM834 28h4v1h-4zM838 27h5v1h-5zM843 26h4v1h-4zM847 25h14v1h-14zM861 24h4v1h-4zM865 23h5v1h-5zM870 22h5v1h-5zM875 21h5v1h-5zM880 20h4v1h-4zM884 19h5v1h-5zM889 18h4v1h-4zM893 17h14v1h-14zM907 16h4v1h-4zM911 15h5v1h-5zM916 14h4v1h-4zM920 13h5v1h-5zM925 12h4v1h-4zM929 11h5v1h-5zM934 10h4v1h-4zM938 9h3v1h-3z"/>
<g font-family="&quot;Liberation Sans&quot;, Arial, sans-serif" font-size="12px" fill="#000000" shape-rendering="auto" transform="scale(0.9,1)">
<text x="11.66 18.33 26.10 33.88" y="13">2870</text>
<text x="11.66 18.33 26.06 33.88" y="33">2860</text>
<text x="11.66 18.33 26.12 33.88" y="53">2850</text>
<text x="11.66 18.33 26.14 33.88" y="73">2840</text>
<text x="11.66 18.33 26.14 33.88" y="93">2830</text>
<text x="11.66 18.33 26.11 33.88" y="113">2820</text>
<text x="11.66 18.33 25.94 33.88" y="133">2810</text>
<text x="11.66 18.33 26.10 33.88" y="153">2800</text>
<text x="11.66 18.32 26.11 33.88" y="173">2790</text>
<text x="11.66 18.32 26.11 33.88" y="193">2780</text>
<text x="11.66 18.32 26.10 33.88" y="213">2770</text>
<text x="11.66 18.32 26.06 33.88" y="234">2760</text>
<text x="11.66 18.32 26.12 33.88" y="254">2750</text>
<text x="11.66 18.32 26.14 33.88" y="274">2740</text>
<text x="11.66 18.32 26.14 33.88" y="294">2730</text>
<text x="11.66 18.32 26.11 33.88" y="314">2720</text>
<text x="11.66 18.32 25.94 33.88" y="334">2710</text>
<text x="11.66 18.32 26.10 33.88" y="354">2700</text>
<text x="11.66 18.29 26.11 33.88" y="374">2690</text>
<text x="11.66 18.29 26.11 33.88" y="394">2680</text>
<text x="11.66 18.29 26.10 33.88" y="414">2670</text>
</g>
</svg>
</body>
</html>
